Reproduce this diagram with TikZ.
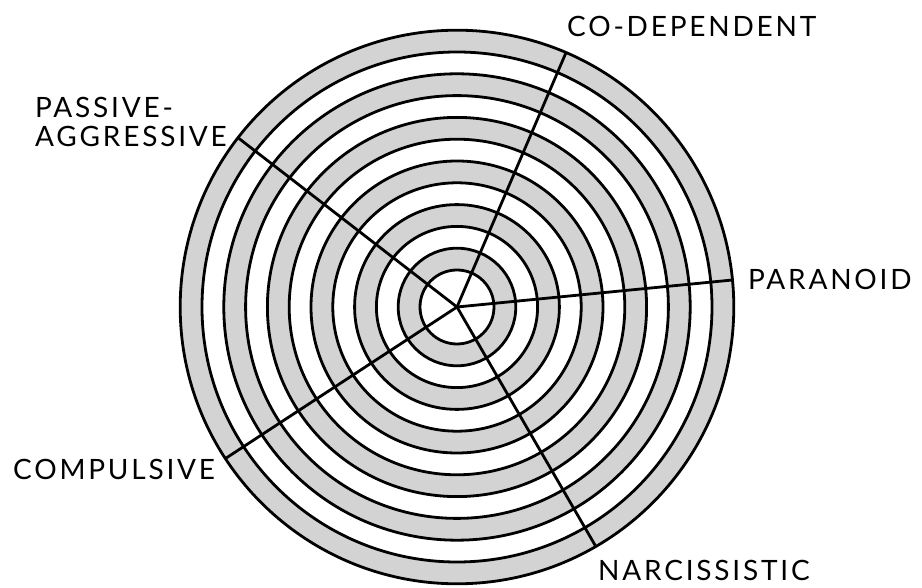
\documentclass[tikz,border=0pt]{standalone}
\usepackage{fontspec}
\newfontfamily\labelfont{Lato}[LetterSpace=10]
\usepackage{tikz}
\usetikzlibrary{positioning}
\definecolor{ringGray}{RGB}{211,211,211}

\begin{document}
\begin{tikzpicture}[x=1pt,y=1pt,
    ring/.style={line width=2.8pt},
    spoke/.style={line width=2.8pt},
    lbl/.style={font=\labelfont\fontsize{28}{29}\selectfont,inner sep=0pt,anchor=base west}]
  % frame of the page
  \useasboundingbox (-457,-281) rectangle (465,307);
  \coordinate (ctr) at (0,0);
  % rings, painted from the outside in
  \foreach \k [evaluate=\k as \r using 37+21.8*\k] in {11,10,...,0}{
    \ifodd\k
      \fill[ringGray] (ctr) circle[radius=\r];
    \else
      \fill[white] (ctr) circle[radius=\r];
    \fi
  }
  \foreach \k [evaluate=\k as \r using 37+21.8*\k] in {0,...,11}
    \draw[ring] (ctr) circle[radius=\r];
  % spokes
  \foreach \name/\ang in {codep/66.8,para/5.6,narc/-59.9,comp/213.2,pass/142.3}{
    \coordinate (\name-end) at (\ang:276.8);
    \draw[spoke] (ctr) -- (\name-end);
  }
  % labels
  \node[lbl] (codep) at (110,270) {CO-DEPENDENT};
  \node[lbl] (para) at (291,17) {PARANOID};
  \node[lbl] (narc) at (141,-274) {NARCISSISTIC};
  \node[lbl] (comp) at (-444,-173) {COMPULSIVE};
  \node[lbl] (pass1) at (-422,189) {PASSIVE-};
  \node[lbl] (pass2) at ([yshift=-29pt]pass1.base west) {AGGRESSIVE};
\end{tikzpicture}
\end{document}
